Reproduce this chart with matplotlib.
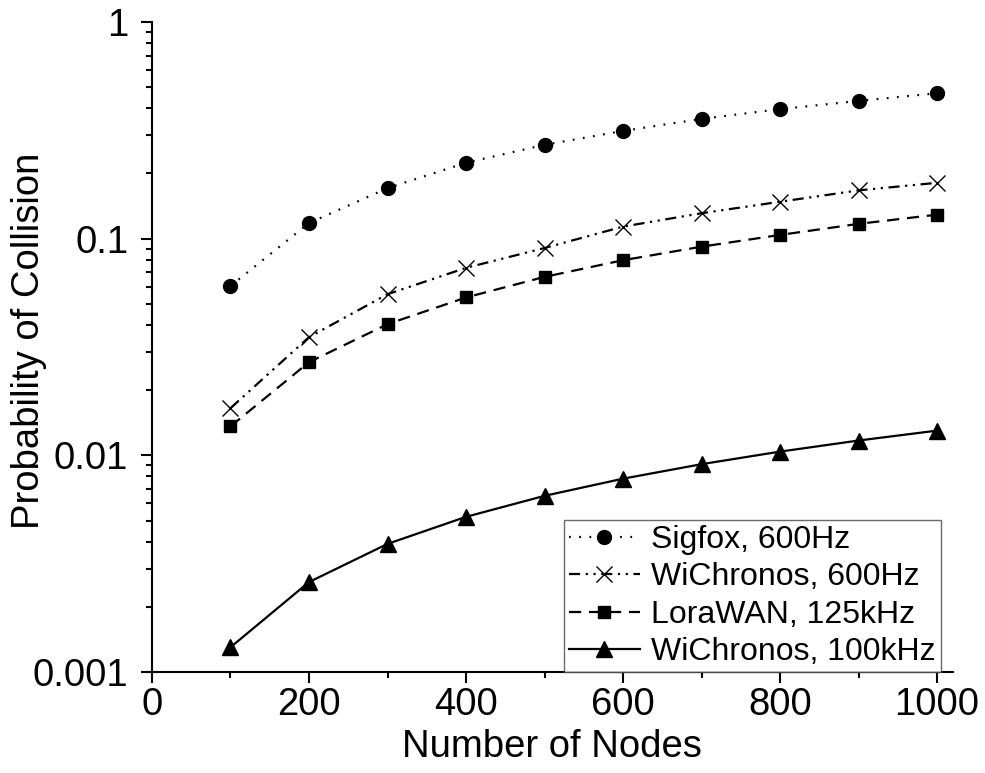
import matplotlib
matplotlib.use("Agg")
import matplotlib.pyplot as plt
from matplotlib.ticker import FixedLocator, LogLocator, MultipleLocator, NullFormatter, FuncFormatter

plt.rcParams["font.family"] = ["Liberation Sans", "DejaVu Sans"]

nodes = [100, 200, 300, 400, 500, 600, 700, 800, 900, 1000]
sigfox_600 = [0.0605, 0.118, 0.171, 0.224, 0.271, 0.314, 0.357, 0.396, 0.432, 0.469]
wichronos_600 = [0.0165, 0.0351, 0.0554, 0.0733, 0.0905, 0.1136, 0.131, 0.148, 0.167, 0.181]
lorawan_125k = [0.0136, 0.0269, 0.0403, 0.0535, 0.0666, 0.0795, 0.0918, 0.104, 0.117, 0.129]
wichronos_100k = [0.0013, 0.0026, 0.0039, 0.0052, 0.0065, 0.0078, 0.0091, 0.0104, 0.0117, 0.0130]

labels = ["Sigfox, 600Hz", "WiChronos, 600Hz", "LoraWAN, 125kHz", "WiChronos, 100kHz"]
y_ticks = [0.001, 0.01, 0.1, 1]
y_tick_labels = ["0.001", "0.01", "0.1", "1"]

fs = 27.5

fig = plt.figure(figsize=(9.85, 7.73), dpi=100)
ax = fig.add_axes([0.1543, 0.1307, 0.813, 0.8409])

lw = 1.6
ax.plot(nodes, sigfox_600, color="black", lw=lw, linestyle=(0, (0.8, 3.8)),
        marker="o", markersize=10, label=labels[0])
ax.plot(nodes, wichronos_600, color="black", lw=lw, linestyle=(0, (5, 2.5, 1, 2.5, 1, 2.5)),
        marker="x", markersize=11, markeredgewidth=1.0, label=labels[1])
ax.plot(nodes, lorawan_125k, color="black", lw=lw, linestyle=(0, (5.5, 3.5)),
        marker="s", markersize=8, label=labels[2])
ax.plot(nodes, wichronos_100k, color="black", lw=lw, linestyle="-",
        marker="^", markersize=11.5, label=labels[3])

ax.set_yscale("log")
ax.set_xlim(0, 1020)
ax.set_ylim(0.001, 1)

ax.xaxis.set_major_locator(MultipleLocator(200))
ax.xaxis.set_minor_locator(MultipleLocator(100))
ax.yaxis.set_major_locator(FixedLocator(y_ticks))
ax.yaxis.set_major_formatter(FuncFormatter(lambda v, p: y_tick_labels[y_ticks.index(v)] if v in y_ticks else ""))
ax.yaxis.set_minor_locator(LogLocator(base=10, subs=range(2, 10)))
ax.yaxis.set_minor_formatter(NullFormatter())

for side in ["top", "right"]:
    ax.spines[side].set_visible(False)
for side in ["left", "bottom"]:
    ax.spines[side].set_linewidth(1.5)

ax.tick_params(which="major", direction="out", length=8, width=1.5, labelsize=fs)
ax.tick_params(which="minor", direction="out", length=4, width=1.5)
ax.tick_params(axis="x", which="major", pad=3)
ax.tick_params(axis="y", which="major", pad=9)

ax.set_xlabel("Number of Nodes", fontsize=fs)
ax.set_ylabel("Probability of Collision", fontsize=fs)
ax.xaxis.set_label_coords(0.5, -0.088)
ax.yaxis.set_label_coords(-0.131, 0.51)

leg = ax.legend(loc="lower right", fontsize=23, frameon=True, fancybox=False,
                borderaxespad=0, bbox_to_anchor=(0.985, 0.0), handlelength=2.2,
                handletextpad=0.37, labelspacing=0.23, borderpad=0.15)
leg.get_frame().set_edgecolor("#444444")
leg.get_frame().set_linewidth(1.0)

fig.savefig("out.png", dpi=100)
